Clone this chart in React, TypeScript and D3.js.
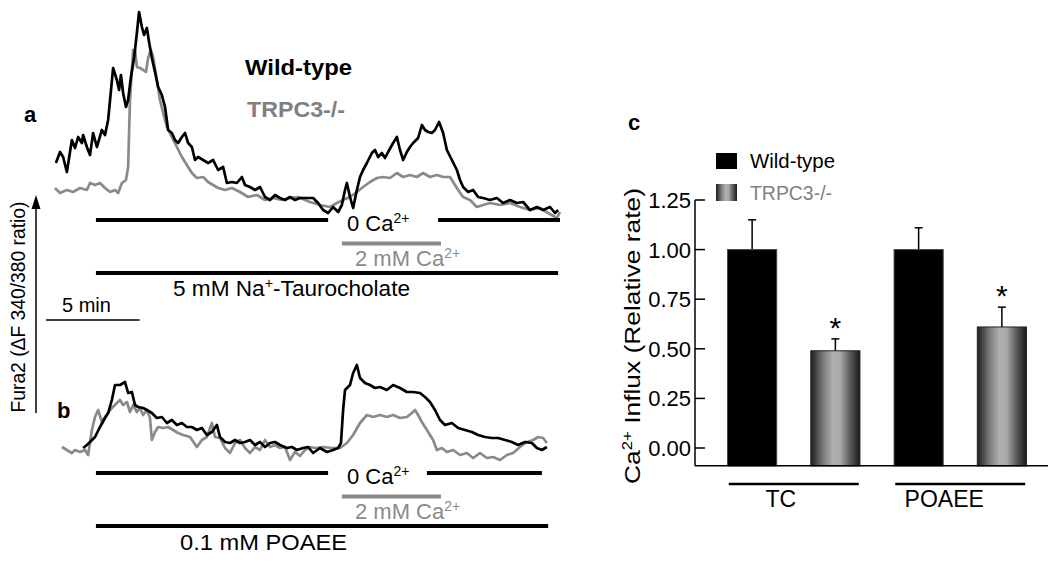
import React from 'react';
import * as d3 from 'd3';

type Pt = [number, number];

// ---- Panel a (5 mM Na+-Taurocholate): [time (s), ΔF 340/380 ratio ×1000]
const tcWildType: Pt[] = [[3,285],[16,340],[26,315],[38,240],[54,400],[64,360],[74,415],[86,385],[90,425],[102,365],[112,325],[122,435],[134,365],[150,450],[160,425],[170,500],[186,760],[198,700],[205,650],[211,725],[218,635],[227,565],[234,600],[243,715],[253,810],[262,935],[269,1040],[278,965],[285,925],[294,960],[301,890],[310,810],[320,740],[330,665],[342,625],[352,565],[362,450],[374,435],[384,400],[394,385],[406,415],[416,435],[426,385],[438,365],[448,300],[458,315],[474,300],[490,285],[506,300],[522,250],[538,265],[550,185],[566,190],[582,185],[598,215],[608,175],[624,165],[640,150],[656,165],[672,115],[688,100],[704,125],[720,110],[736,100],[752,115],[768,100],[784,110],[806,110],[826,110],[842,85],[858,50],[874,35],[890,65],[906,40],[918,75],[928,150],[934,185],[944,115],[954,60],[966,150],[976,215],[986,250],[998,285],[1014,335],[1024,350],[1034,315],[1046,335],[1056,310],[1066,340],[1082,385],[1094,415],[1104,350],[1114,300],[1126,340],[1136,365],[1146,385],[1162,410],[1174,475],[1184,450],[1194,440],[1206,435],[1216,450],[1229,490],[1242,435],[1254,350],[1270,300],[1286,250],[1296,200],[1306,165],[1322,140],[1338,150],[1354,115],[1370,110],[1392,100],[1414,110],[1434,85],[1456,100],[1478,85],[1498,90],[1520,50],[1542,65],[1562,50],[1584,65],[1600,35],[1610,50]];
const tcTrpc3: Pt[] = [[0,160],[16,135],[38,150],[58,140],[80,160],[102,150],[112,185],[128,175],[144,185],[160,160],[176,140],[192,150],[202,135],[214,185],[227,200],[234,265],[240,600],[250,850],[256,850],[262,765],[272,760],[282,750],[291,740],[298,810],[307,850],[314,815],[326,700],[336,600],[346,535],[358,465],[374,415],[390,365],[406,315],[422,275],[438,235],[454,210],[474,215],[490,190],[506,175],[522,160],[544,150],[566,160],[592,140],[618,115],[646,125],[672,100],[698,110],[726,100],[752,110],[778,115],[816,90],[848,75],[880,65],[902,85],[922,100],[944,115],[966,140],[986,165],[1008,190],[1030,210],[1050,215],[1072,210],[1094,235],[1114,215],[1136,225],[1158,215],[1178,235],[1200,215],[1222,225],[1242,215],[1264,215],[1274,190],[1290,150],[1306,115],[1328,100],[1350,65],[1370,75],[1392,85],[1424,75],[1456,85],[1488,65],[1520,50],[1552,60],[1578,35],[1606,10],[1616,40]];

// ---- Panel b (0.1 mM POAEE)
const poWildType: Pt[] = [[90,110],[102,125],[112,140],[128,165],[144,215],[160,260],[170,285],[182,350],[192,425],[208,425],[224,440],[234,385],[246,390],[256,325],[266,315],[282,310],[294,300],[310,285],[326,260],[342,265],[358,235],[374,250],[390,225],[406,235],[422,215],[438,215],[454,200],[470,210],[486,175],[502,190],[518,225],[528,165],[544,140],[560,135],[576,150],[592,135],[608,140],[624,150],[640,125],[656,140],[672,115],[688,135],[704,140],[720,125],[742,110],[758,115],[774,100],[794,110],[810,115],[826,85],[848,110],[870,90],[890,100],[906,110],[915,135],[922,300],[928,400],[944,425],[954,485],[966,525],[976,460],[992,435],[1008,425],[1024,410],[1040,415],[1062,400],[1082,425],[1104,410],[1126,390],[1146,390],[1168,385],[1184,365],[1200,340],[1216,300],[1232,250],[1248,225],[1270,235],[1290,210],[1312,200],[1334,190],[1354,175],[1376,165],[1398,160],[1418,160],[1440,150],[1462,140],[1482,125],[1504,140],[1526,135],[1542,110],[1558,100],[1574,115]];
const poTrpc3: Pt[] = [[22,115],[38,100],[54,85],[64,100],[80,90],[96,100],[106,75],[118,200],[128,265],[138,300],[150,240],[160,265],[170,285],[182,310],[198,335],[208,350],[218,325],[230,340],[240,290],[250,325],[262,290],[272,310],[282,275],[294,300],[304,260],[310,150],[320,190],[330,215],[346,210],[362,215],[378,200],[394,185],[410,175],[432,165],[454,115],[470,150],[486,165],[502,235],[512,165],[528,160],[544,110],[560,85],[576,135],[592,150],[608,110],[624,85],[640,115],[656,100],[672,150],[688,115],[704,125],[720,110],[736,115],[752,50],[768,90],[784,70],[800,100],[816,115],[832,110],[858,115],[886,110],[912,110],[934,135],[954,175],[976,235],[998,275],[1018,265],[1040,275],[1062,265],[1082,275],[1104,260],[1126,265],[1142,285],[1152,300],[1162,275],[1174,240],[1184,215],[1194,190],[1210,150],[1222,100],[1238,110],[1254,90],[1274,100],[1296,75],[1318,85],[1338,60],[1360,85],[1382,60],[1402,65],[1424,50],[1446,75],[1466,85],[1488,115],[1510,140],[1530,150],[1546,165],[1562,160],[1574,135]];

// ---- Protocol bars [start s, end s]
const tcZeroCa: Pt[] = [[131, 874], [1226, 1616]];
const tcCa: Pt = [918, 1235];
const tcDrug: Pt = [131, 1610];
const poZeroCa: Pt[] = [[131, 874], [1190, 1558]];
const poCa: Pt = [918, 1235];
const poDrug: Pt = [131, 1578];
const scaleBarSeconds = 300;

// ---- Panel c bar chart
const groups = ['TC', 'POAEE'];
const groupLabelShift = [-13, -16];
const series = ['Wild-type', 'TRPC3-/-'];
const wtMeans = [1.0, 1.0];
const wtErrors = [0.15, 0.11];
const koMeans = [0.49, 0.61];
const koErrors = [0.06, 0.10];
const koSignificant = [true, true];
const yTicks = [0, 0.25, 0.5, 0.75, 1.0, 1.25];

const FONT = "'Liberation Sans', Arial, Helvetica, sans-serif";
const GRAY = '#8a8a8a';

export default function App() {
  // traces
  const xT = d3.scaleLinear().domain([0, 1616]).range([55, 560]);
  const yA = d3.scaleLinear().domain([0, 1000]).range([220, 20]);
  const yB = d3.scaleLinear().domain([0, 1000]).range([470, 270]);
  const lineA = d3.line<Pt>().x(d => xT(d[0])).y(d => yA(d[1]));
  const lineB = d3.line<Pt>().x(d => xT(d[0])).y(d => yB(d[1]));

  // bar chart
  const yC = d3.scaleLinear().domain([0, 1.25]).range([448, 200]);
  const yFloor = -0.09;
  const x0 = d3.scaleBand<string>().domain(groups).range([710.5, 1043.5]);
  const x1 = d3.scaleBand<string>().domain(series).range([0, x0.bandwidth()]).paddingInner(0.41).paddingOuter(0.205);
  const axisX = 695;
  const baseY = yC(yFloor);

  const protocol = (offset: number, zeroCa: Pt[], ca: Pt, drug: Pt) => (
    <g>
      {zeroCa.map((s, i) => (
        <line key={i} x1={xT(s[0])} x2={xT(s[1])} y1={220 + offset} y2={220 + offset} stroke="#000" strokeWidth={4} />
      ))}
      <line x1={xT(ca[0])} x2={xT(ca[1])} y1={243.5 + offset} y2={243.5 + offset} stroke={GRAY} strokeWidth={4} />
      <line x1={xT(drug[0])} x2={xT(drug[1])} y1={273 + offset} y2={273 + offset} stroke="#000" strokeWidth={4} />
      <text x={347} y={231 + offset} fontSize={22} fill="#000">0 Ca<tspan dy={-8} fontSize={14}>2+</tspan></text>
      <text x={355} y={266 + offset} fontSize={22} fill={GRAY}>2 mM Ca<tspan dy={-8} fontSize={14}>2+</tspan></text>
    </g>
  );

  const group = (g: string, i: number) => {
    const gx = x0(g)!;
    const bw = x1.bandwidth();
    const wx = gx + x1(series[0])!;
    const kx = gx + x1(series[1])!;
    const wTop = yC(wtMeans[i]);
    const kTop = yC(koMeans[i]);
    const wErr = yC(wtMeans[i] + wtErrors[i]);
    const kErr = yC(koMeans[i] + koErrors[i]);
    const cx = gx + x0.bandwidth() / 2;
    return (
      <g key={g}>
        <line x1={wx + bw / 2} x2={wx + bw / 2} y1={wTop} y2={wErr} stroke="#000" strokeWidth={1.5} />
        <line x1={wx + bw / 2 - 4} x2={wx + bw / 2 + 4} y1={wErr} y2={wErr} stroke="#000" strokeWidth={1.5} />
        <rect x={wx} y={wTop} width={bw} height={baseY - wTop} fill="#000" stroke="#444" strokeWidth={1} />
        <line x1={kx + bw / 2} x2={kx + bw / 2} y1={kTop} y2={kErr} stroke="#000" strokeWidth={1.5} />
        <line x1={kx + bw / 2 - 4} x2={kx + bw / 2 + 4} y1={kErr} y2={kErr} stroke="#000" strokeWidth={1.5} />
        <rect x={kx} y={kTop} width={bw} height={baseY - kTop} fill="url(#koGrad)" stroke="#222" strokeWidth={1} />
        {koSignificant[i] && (
          <text x={kx + bw / 2} y={kErr - 1} fontSize={30} textAnchor="middle">*</text>
        )}
        <line x1={cx - 65} x2={cx + 65} y1={484} y2={484} stroke="#000" strokeWidth={2.5} />
        <text x={cx + groupLabelShift[i]} y={507} fontSize={23} textAnchor="middle">{g}</text>
      </g>
    );
  };

  return (
    <svg width={1050} height={562} style={{ position: 'absolute', left: 0, top: 0, background: '#fff' }} fontFamily={FONT}>
      <defs>
        <linearGradient id="koGrad" x1="0" x2="1" y1="0" y2="0">
          <stop offset="0" stopColor="#1e1e1e" />
          <stop offset="0.25" stopColor="#7a7a7a" />
          <stop offset="0.45" stopColor="#b0b0b0" />
          <stop offset="0.6" stopColor="#a8a8a8" />
          <stop offset="0.8" stopColor="#5a5a5a" />
          <stop offset="1" stopColor="#1a1a1a" />
        </linearGradient>
      </defs>

      {/* Panel labels */}
      <text x={24} y={122} fontSize={22} fontWeight="bold">a</text>
      <text x={57} y={418} fontSize={22} fontWeight="bold">b</text>
      <text x={628} y={130} fontSize={22} fontWeight="bold">c</text>

      {/* Left legend */}
      <text x={245} y={75} fontSize={22} fontWeight="bold" textLength={107} lengthAdjust="spacingAndGlyphs">Wild-type</text>
      <text x={247} y={117} fontSize={22} fontWeight="bold" fill="#808080" textLength={98} lengthAdjust="spacingAndGlyphs">TRPC3-/-</text>

      {/* Traces panel a */}
      <path d={lineA(tcTrpc3)!} fill="none" stroke={GRAY} strokeWidth={2.7} strokeLinejoin="round" />
      <path d={lineA(tcWildType)!} fill="none" stroke="#000" strokeWidth={2.7} strokeLinejoin="round" />
      {protocol(0, tcZeroCa, tcCa, tcDrug)}
      <text x={173} y={296} fontSize={22} textLength={237} lengthAdjust="spacingAndGlyphs">5 mM Na<tspan dy={-8} fontSize={14}>+</tspan><tspan dy={8}>-Taurocholate</tspan></text>

      {/* Scale bar */}
      <text x={62} y={312} fontSize={20}>5 min</text>
      <line x1={46} x2={46 + xT(scaleBarSeconds) - xT(0)} y1={320} y2={320} stroke="#000" strokeWidth={1.5} />

      {/* Y arrow + label */}
      <line x1={36} x2={36} y1={413} y2={206} stroke="#000" strokeWidth={1.5} />
      <path d="M31.5,209 L36,195 L40.5,209 Z" fill="#000" />
      <text transform="translate(25,307) rotate(-90)" fontSize={20} textAnchor="middle" textLength={211} lengthAdjust="spacingAndGlyphs">Fura2 (ΔF 340/380 ratio)</text>

      {/* Traces panel b */}
      <path d={lineB(poTrpc3)!} fill="none" stroke={GRAY} strokeWidth={2.7} strokeLinejoin="round" />
      <path d={lineB(poWildType)!} fill="none" stroke="#000" strokeWidth={2.7} strokeLinejoin="round" />
      {protocol(253, poZeroCa, poCa, poDrug)}
      <text x={180} y={550} fontSize={22} textLength={167} lengthAdjust="spacingAndGlyphs">0.1 mM POAEE</text>

      {/* Panel c */}
      <rect x={716} y={153} width={21} height={16} fill="#000" />
      <text x={750} y={168} fontSize={20} textLength={85} lengthAdjust="spacingAndGlyphs">{series[0]}</text>
      <rect x={716} y={184} width={21} height={17} fill="url(#koGrad)" />
      <text x={750} y={200} fontSize={20} fill="#808080" textLength={82} lengthAdjust="spacingAndGlyphs">{series[1]}</text>

      {groups.map((g, i) => group(g, i))}

      <line x1={axisX} x2={axisX} y1={yC(1.25)} y2={baseY} stroke="#000" strokeWidth={1.5} />
      <line x1={axisX} x2={1048} y1={baseY} y2={baseY} stroke="#000" strokeWidth={1.5} />
      {yTicks.map(t => (
        <g key={t}>
          <line x1={axisX} x2={axisX + 10} y1={yC(t)} y2={yC(t)} stroke="#000" strokeWidth={1.5} />
          <text x={691} y={yC(t)} dy="0.36em" fontSize={22} textAnchor="end">{d3.format('.2f')(t)}</text>
        </g>
      ))}
      <text transform="translate(640,336) rotate(-90)" fontSize={22} textAnchor="middle" textLength={296} lengthAdjust="spacingAndGlyphs">Ca<tspan dy={-8} fontSize={14}>2+</tspan><tspan dy={8}> Influx (Relative rate)</tspan></text>
    </svg>
  );
}
